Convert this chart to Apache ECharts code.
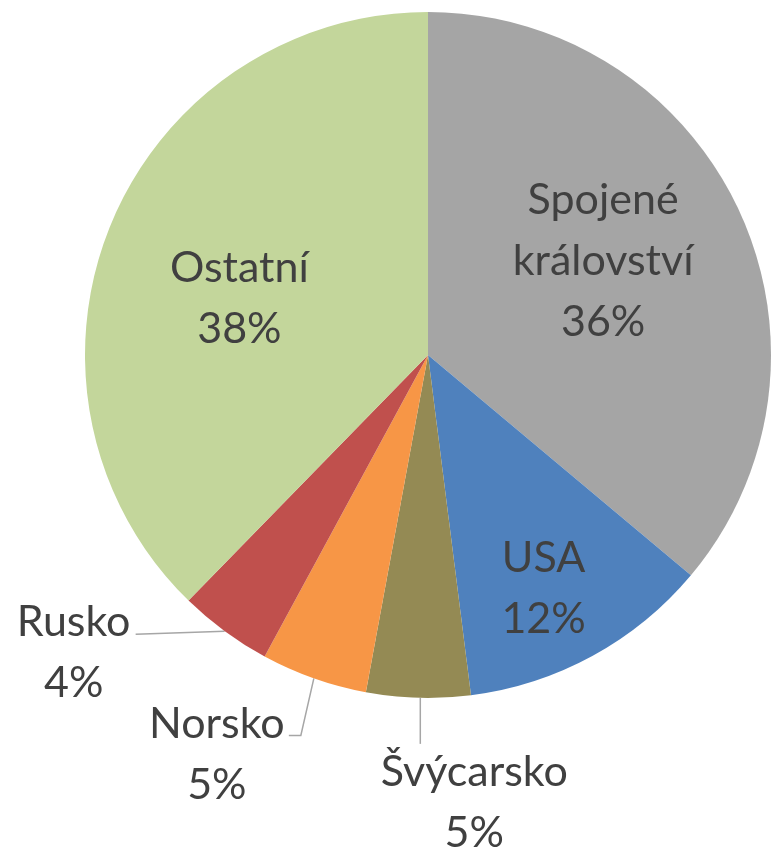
<!DOCTYPE html>
<html><head><meta charset="utf-8">
<script src="https://cdn.jsdelivr.net/npm/echarts@6/dist/echarts.min.js"></script>
<style>html,body{margin:0;padding:0;background:#fff}#c{width:771px;height:853px}</style>
</head><body><div id="c"></div>
<script>
// ---- data ----
const categories = ['Spojené království', 'USA', 'Švýcarsko', 'Norsko', 'Rusko', 'Ostatní'];
const labelLines = [['Spojené', 'království'], ['USA'], ['Švýcarsko'], ['Norsko'], ['Rusko'], ['Ostatní']];
const values = [36.1, 11.9, 4.9, 5.0, 4.4, 37.7];
const colors = ['#A5A5A5', '#4F81BD', '#948A54', '#F79646', '#C0504D', '#C3D69B'];
const insideLabel = [true, true, false, false, false, true];

// ---- layout tweaks (label offsets / leader line shapes) ----
const labelShift = [[17, -20], [32, 80], [56, 105], [-97, 76], [-151, 21], [-27, 9]];
const leaderShape = {
  2: [[2, 0], [2, 46], [2, 46]],
  3: [[0, 0], [-13, 57], [-25, 57]],
  4: [[0, 0], [0, 0], [-89, 3]]
};

const chart = echarts.init(document.getElementById('c'), null, {renderer: 'canvas'});
const data = categories.map((name, i) => ({
  name: name,
  value: values[i],
  itemStyle: {color: colors[i]},
  label: {position: insideLabel[i] ? 'inside' : 'outside'},
  labelLine: {show: !insideLabel[i]}
}));

chart.setOption({
  animation: false,
  series: [{
    type: 'pie',
    center: [428, 355],
    radius: 343,
    startAngle: 90,
    clockwise: true,
    avoidLabelOverlap: false,
    percentPrecision: 0,
    emphasis: {disabled: true},
    itemStyle: {borderWidth: 0},
    label: {
      show: true,
      fontFamily: 'Lato',
      fontSize: 43,
      lineHeight: 61,
      color: '#404040',
      formatter: function (p) {
        const lines = labelLines[p.dataIndex].concat([p.percent + '%']);
        return lines.map(t => '{n|' + t + '}').join('\n');
      },
      rich: {
        n: {fontFamily: 'Lato', fontSize: 43, lineHeight: 61, color: '#404040', align: 'center'}
      }
    },
    labelLine: {
      show: true,
      length: 20,
      length2: 20,
      lineStyle: {color: '#A6A6A6', width: 1.5}
    },
    labelLayout: function (p) {
      const i = p.dataIndex;
      const r = p.labelRect;
      const s = labelShift[i];
      if (insideLabel[i]) {
        return {x: r.x + r.width / 2 + s[0], y: r.y + r.height / 2 + s[1]};
      }
      const p0 = p.labelLinePoints[0];
      const cx = p0[0] + s[0];
      const cy = p0[1] + s[1];
      let x = cx;
      if (p.align === 'right') x = cx + r.width / 2;
      else if (p.align === 'left') x = cx - r.width / 2;
      const pts = leaderShape[i].map(d => [p0[0] + d[0], p0[1] + d[1]]);
      return {x: x, y: cy, labelLinePoints: pts};
    },
    data: data
  }]
});
</script></body></html>
